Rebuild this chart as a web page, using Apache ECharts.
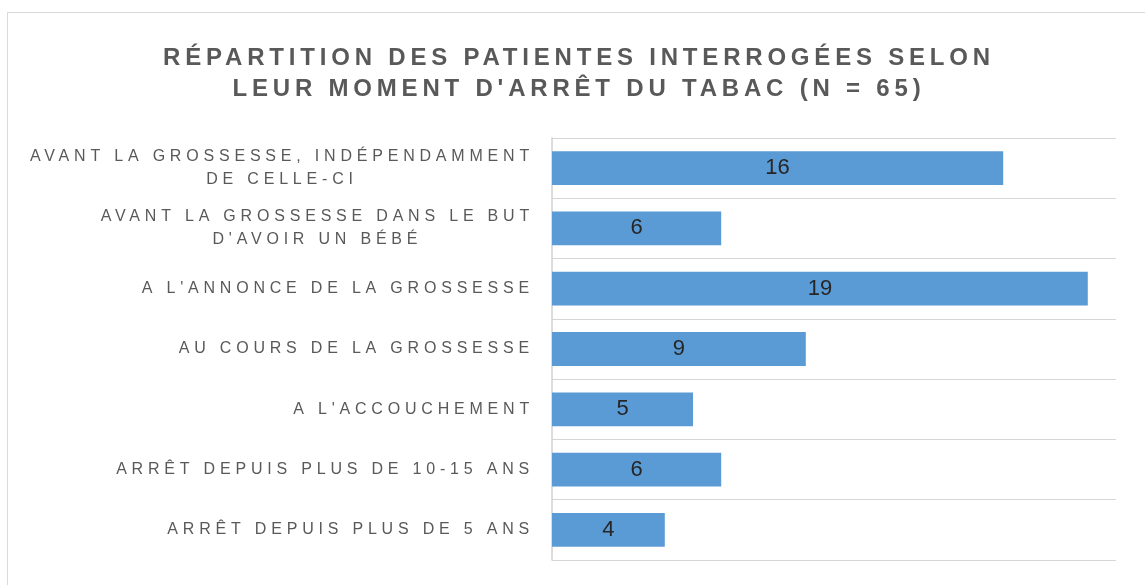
<!DOCTYPE html>
<html>
<head>
<meta charset="utf-8">
<style>
  html, body { margin: 0; padding: 0; background: #ffffff; }
  #chart { width: 1145px; height: 585px; }
</style>
<script src="https://cdn.jsdelivr.net/npm/echarts@6/dist/echarts.min.js"></script>
</head>
<body>
<div id="chart"></div>
<script>
// ---- data ----
const titleLines = ['RÉPARTITION DES PATIENTES INTERROGÉES SELON', "LEUR MOMENT D'ARRÊT DU TABAC (N = 65)"];
const categories = [
  'AVANT LA GROSSESSE, INDÉPENDAMMENT\nDE CELLE-CI',
  "AVANT LA GROSSESSE DANS LE BUT\nD'AVOIR UN BÉBÉ",
  "A L'ANNONCE DE LA GROSSESSE",
  'AU COURS DE LA GROSSESSE',
  "A L'ACCOUCHEMENT",
  'ARRÊT DEPUIS PLUS DE 10-15 ANS',
  'ARRÊT DEPUIS PLUS DE 5 ANS'
];
const values = [16, 6, 19, 9, 5, 6, 4];

// letter-spacing for the spaced label/title text (applies to both measuring and drawing)
(function () {
  const proto = window.CanvasRenderingContext2D && CanvasRenderingContext2D.prototype;
  if (!proto || !('letterSpacing' in proto)) return;
  const desc = Object.getOwnPropertyDescriptor(proto, 'font');
  if (!desc || !desc.set) return;
  Object.defineProperty(proto, 'font', {
    configurable: true,
    get: function () { return desc.get.call(this); },
    set: function (v) {
      desc.set.call(this, v);
      const s = String(v);
      this.letterSpacing = (/(^|\s)16px/.test(s) || /(^|\s)24px/.test(s)) ? '4.8px' : '0px';
    }
  });
})();

const FONT = '"Liberation Sans", Arial, sans-serif';
const chart = echarts.init(document.getElementById('chart'));
chart.setOption({
  animation: false,
  backgroundColor: '#ffffff',
  title: {
    text: titleLines.join('\n'),
    left: 574,
    top: 38,
    textAlign: 'center',
    textStyle: {
      fontFamily: FONT,
      fontSize: 24,
      fontWeight: 'bold',
      color: '#595959',
      lineHeight: 31
    }
  },
  graphic: [{
    type: 'rect',
    silent: true,
    z: -10,
    shape: { x: 7.5, y: 12.5, width: 1300, height: 1000 },
    style: { fill: 'none', stroke: '#d9d9d9', lineWidth: 1 }
  }],
  grid: { left: 552, right: 29, top: 138, bottom: 25, containLabel: false, outerBoundsMode: 'none' },
  xAxis: {
    type: 'value',
    min: 0,
    max: 20,
    show: false
  },
  yAxis: {
    type: 'category',
    inverse: true,
    data: categories,
    axisLine: { show: true, lineStyle: { color: '#d0d0d0', width: 1.5 } },
    axisTick: { show: false },
    splitLine: { show: true, lineStyle: { color: '#d6d6d6', width: 1.2 } },
    axisLabel: {
      margin: 18,
      color: '#595959',
      fontFamily: FONT,
      fontSize: 16,
      lineHeight: 23,
      formatter: function (v) {
        return v.split('\n').map(function (l) { return '{c|' + l + '}'; }).join('\n');
      },
      rich: {
        c: { align: 'center', color: '#595959', fontFamily: FONT, fontSize: 16, lineHeight: 23 }
      }
    }
  },
  series: [{
    type: 'bar',
    data: values,
    barCategoryGap: '44%',
    itemStyle: { color: '#5b9bd5' },
    label: {
      show: true,
      position: 'inside',
      color: '#262626',
      fontFamily: FONT,
      fontSize: 22
    }
  }]
});
</script>
</body>
</html>
